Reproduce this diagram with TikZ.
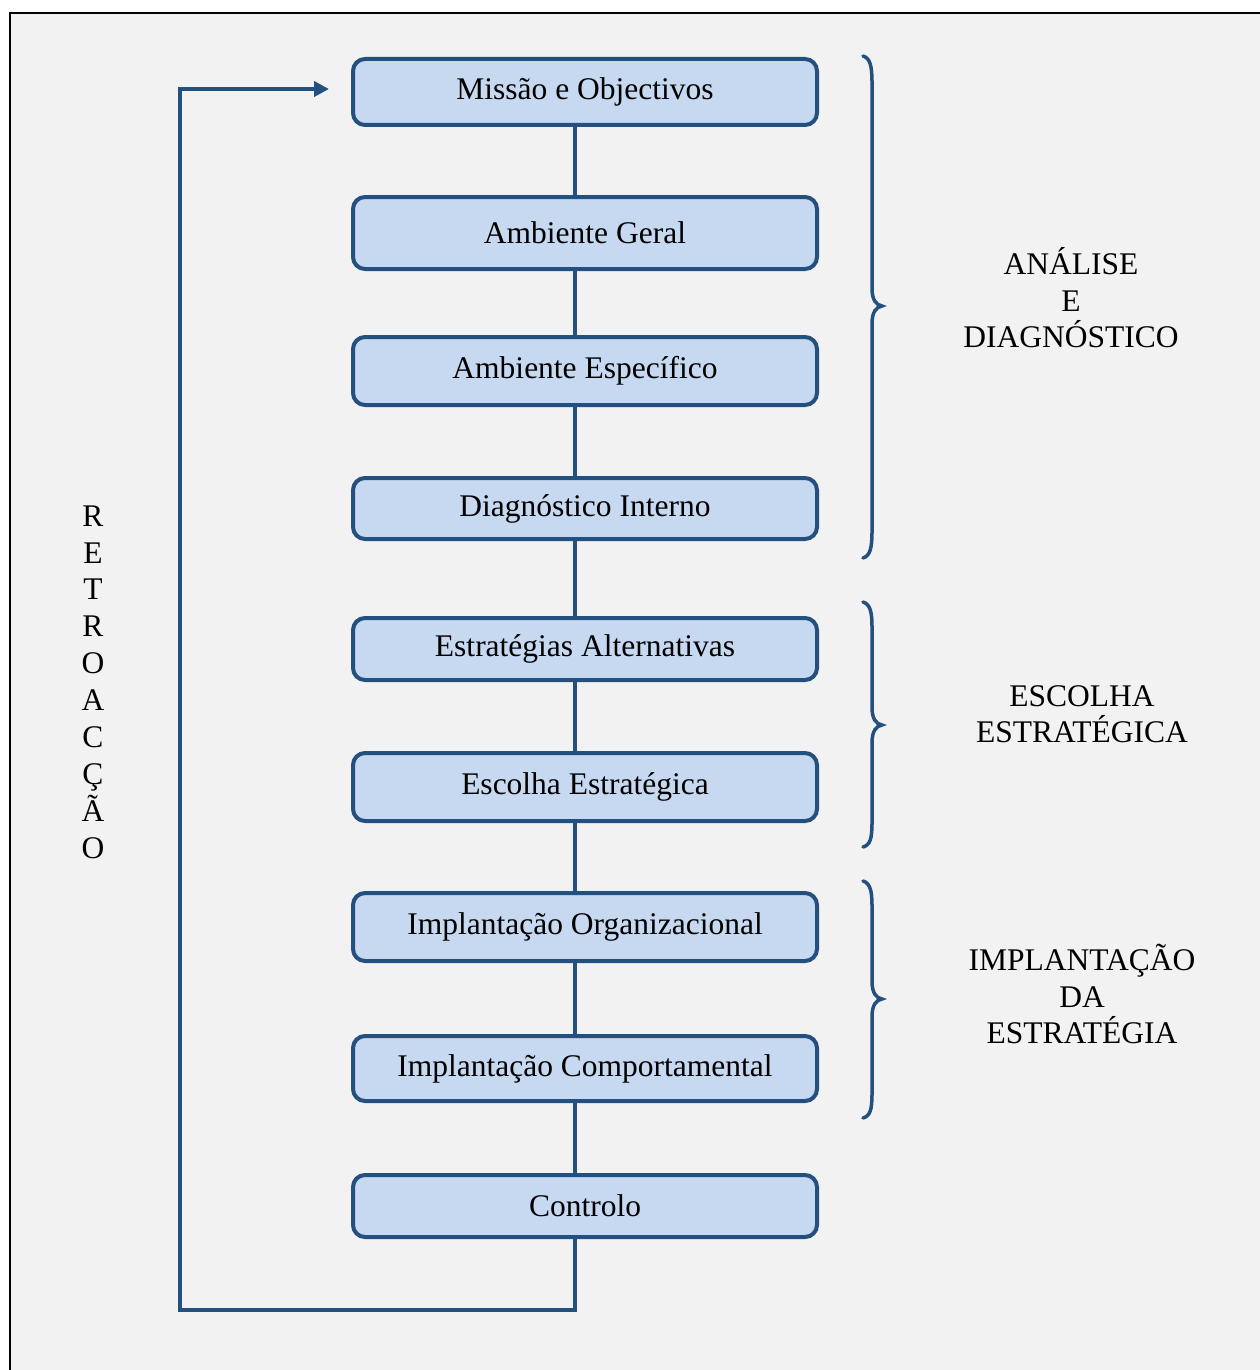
\documentclass[tikz,border=0pt]{standalone}
\usepackage{fontspec}
\setmainfont{Liberation Serif}
\usetikzlibrary{arrows.meta,calc}
\definecolor{edgeblue}{HTML}{24507F}
\definecolor{boxfill}{HTML}{C6D9F0}
\definecolor{panel}{HTML}{F2F2F2}
\begin{document}
\begin{tikzpicture}[x=1pt,y=-1pt,
  stagebox/.style={draw=edgeblue, fill=boxfill, line width=4pt, rounded corners=12pt,
    minimum width=464pt, inner sep=0pt, font=\fontsize{31.5}{36}\selectfont},
  link/.style={draw=edgeblue, line width=4pt},
  loop/.style={draw=edgeblue, line width=4pt, line join=miter,
    -{Triangle[length=15pt,width=15pt]}},
  bracepath/.style={draw=edgeblue, line width=3.5pt, line cap=round},
  phase/.style={align=center, inner sep=0pt, font=\fontsize{31.5}{36.5}\selectfont}]

% page size fixed first, then the framed panel running off the page
\useasboundingbox (0,0) rectangle (1260,1370);
\fill[white] (0,0) rectangle (1260,1370);
\draw[black, line width=2pt, fill=panel] (10,13) rectangle (1275,1385);

% the nine stages
\node[stagebox, minimum height=66pt] (m)  at (585,92)    {Missão e Objectivos};
\node[stagebox, minimum height=72pt] (ag) at (585,233)   {Ambiente Geral};
\node[stagebox, minimum height=68pt] (ae) at (585,371)   {Ambiente Específico};
\node[stagebox, minimum height=61pt] (di) at (585,508.5) {Diagnóstico Interno};
\node[stagebox, minimum height=62pt] (ea) at (585,649)   {Estratégias Alternativas};
\node[stagebox, minimum height=68pt] (ee) at (585,787)   {Escolha Estratégica};
\node[stagebox, minimum height=68pt] (io) at (585,927)   {Implantação Organizacional};
\node[stagebox, minimum height=65pt] (ic) at (585,1068.5){Implantação Comportamental};
\node[stagebox, minimum height=62pt] (ct) at (585,1206)  {Controlo};

% vertical spine and feedback corner
\coordinate (spine) at (575,0);
\coordinate (lb) at (180,1310);

\foreach \a/\b in {m/ag, ag/ae, ae/di, di/ea, ea/ee, ee/io, io/ic, ic/ct}
  \draw[link] (\a.south -| spine) -- (\b.north -| spine);

% feedback loop back to the first stage
\draw[loop] (ct.south -| spine) |- (lb) |- ([xshift=-22pt,yshift=3pt]m.west);

% vertical label of the loop
\node[phase, font=\fontsize{31.5}{36.9}\selectfont] (retro) at (93,682)
  {R\\E\\T\\R\\O\\A\\C\\Ç\\Ã\\O};

% braces
\draw[bracepath] (863,56) .. controls (870,58) and (872,66) .. (872,82)
  -- (872,288) .. controls (872,300) and (876,305) .. (882,306)
  .. controls (876,307) and (872,312) .. (872,324)
  -- (872,532) .. controls (872,548) and (870,556) .. (863,558);
\draw[bracepath] (863,602) .. controls (870,604) and (872,612) .. (872,626)
  -- (872,707) .. controls (872,719) and (876,724) .. (882,725)
  .. controls (876,726) and (872,731) .. (872,743)
  -- (872,823) .. controls (872,839) and (870,845) .. (863,847);
\draw[bracepath] (863,881) .. controls (870,883) and (872,891) .. (872,905)
  -- (872,981) .. controls (872,993) and (876,998) .. (882,999)
  .. controls (876,1000) and (872,1005) .. (872,1017)
  -- (872,1094) .. controls (872,1110) and (870,1116) .. (863,1118);

% phase labels
\node[phase] (p1) at (1071,298) {ANÁLISE\\E\\DIAGNÓSTICO};
\node[phase] (p2) at (1082,714) {ESCOLHA\\ESTRATÉGICA};
\node[phase] (p3) at (1082,994) {IMPLANTAÇÃO\\DA\\ESTRATÉGIA};
\end{tikzpicture}
\end{document}
